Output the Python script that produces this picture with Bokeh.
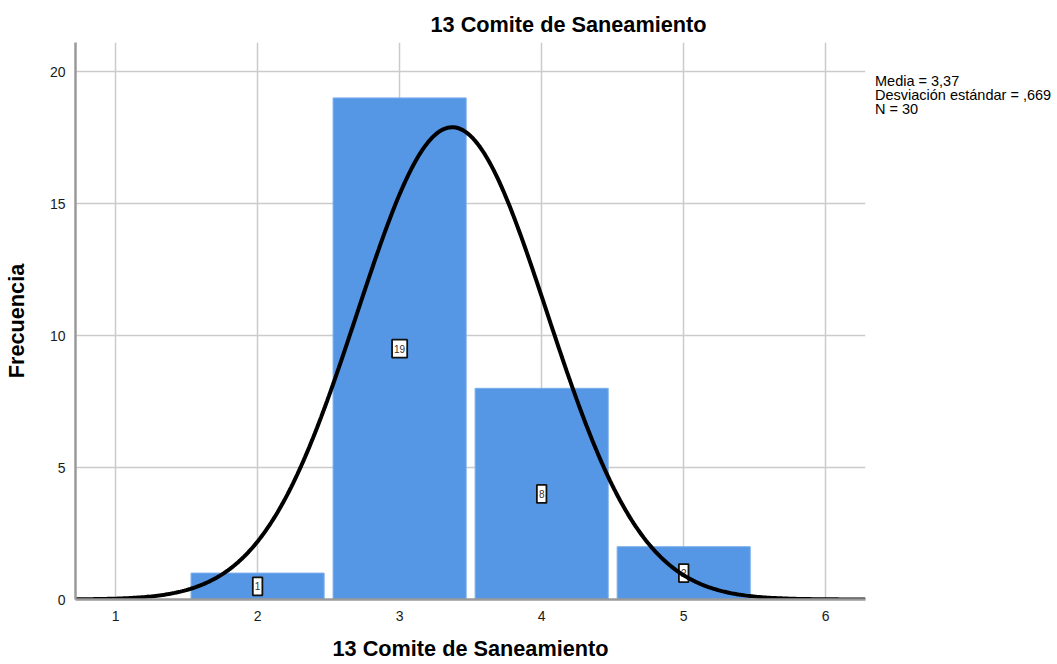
import numpy as np
from bokeh.plotting import figure
from bokeh.models import Range1d, Title, FixedTicker, ColumnDataSource, Div
from bokeh.layouts import row
from bokeh.core.properties import value
from bokeh.embed import file_html
from bokeh.resources import INLINE

# Data
values = [2, 3, 4, 5]
counts = [1, 19, 8, 2]
count_labels = ["1", "19", "8", "2"]
x_ticks = [1, 2, 3, 4, 5, 6]
y_ticks = [0, 5, 10, 15, 20]
media = 3.37
desv = 0.669
n_total = 30
stats_lines = ["Media = 3,37", "Desviación estándar = ,669", "N = 30"]

FONT = "Liberation Sans"

p = figure(width=867, height=664, output_backend="svg", toolbar_location=None,
           x_range=Range1d(0.718, 6.28), y_range=Range1d(0, 21.1),
           min_border_left=75, min_border_right=2, min_border_top=42, min_border_bottom=65)
p.outline_line_color = None
p.background_fill_color = "white"
p.border_fill_color = "white"

# title
t = Title(text="13 Comite de Saneamiento", align="left", offset=355,
          text_font=FONT, text_font_size="21.7px", text_font_style="bold",
          text_color="#000000", standoff=11)
p.add_layout(t, "above")

# grids
p.xgrid.ticker = FixedTicker(ticks=x_ticks)
p.ygrid.ticker = FixedTicker(ticks=y_ticks)
p.grid.grid_line_color = "#cbcbcb"
p.grid.grid_line_width = 1.5

# axes
for ax in (p.xaxis[0], p.yaxis[0]):
    ax.axis_line_color = "#9a9a9a"
    ax.axis_line_width = 2.5
    ax.major_tick_line_color = None
    ax.minor_tick_line_color = None
    ax.major_tick_out = 0
    ax.major_tick_in = 0
    ax.major_label_text_font = FONT
    ax.major_label_text_font_size = "14px"
    ax.major_label_text_color = "#1a1a1a"
    ax.axis_label_text_font = FONT
    ax.axis_label_text_font_size = "21.7px"
    ax.axis_label_text_font_style = "bold"
    ax.axis_label_text_color = "#000000"

p.xaxis[0].ticker = FixedTicker(ticks=x_ticks)
p.yaxis[0].ticker = FixedTicker(ticks=y_ticks)
p.xaxis[0].axis_label = "13 Comite de Saneamiento"
p.yaxis[0].axis_label = "Frecuencia"
p.xaxis[0].major_label_standoff = 11
p.xaxis[0].axis_label_standoff = 12
p.yaxis[0].major_label_standoff = 10
p.yaxis[0].axis_label_standoff = 18

src = ColumnDataSource(dict(x=values, top=counts,
                            mid=[c / 2 for c in counts], lab=count_labels))
p.vbar(x="x", top="top", width=0.937, bottom=0, source=src,
       fill_color="#5596e5", line_color="#7aaeea", line_width=1)

p.text(x="x", y="mid", text="lab", source=src, text_align="center",
       text_baseline="middle", text_font=value(FONT), text_font_size="10px",
       text_color="#333333", background_fill_color="white",
       border_line_color="#111111", border_line_width=1.8, padding=(2, 5))

# normal curve from media, desv, N (bin width 1)
xs = np.linspace(0.718, 6.28, 400)
ys = n_total * 1.0 / (desv * np.sqrt(2 * np.pi)) * np.exp(-0.5 * ((xs - media) / desv) ** 2)
p.line(xs, ys, line_color="black", line_width=4)

stats = Div(text="<br>".join(stats_lines), width=170, height=60,
            margin=(74, 0, 0, 8),
            styles={"font-family": FONT, "font-size": "14.5px",
                    "line-height": "14px", "color": "#000000",
                    "white-space": "nowrap"})

layout = row(p, stats)
open("out.html", "w").write(file_html(layout, INLINE))
